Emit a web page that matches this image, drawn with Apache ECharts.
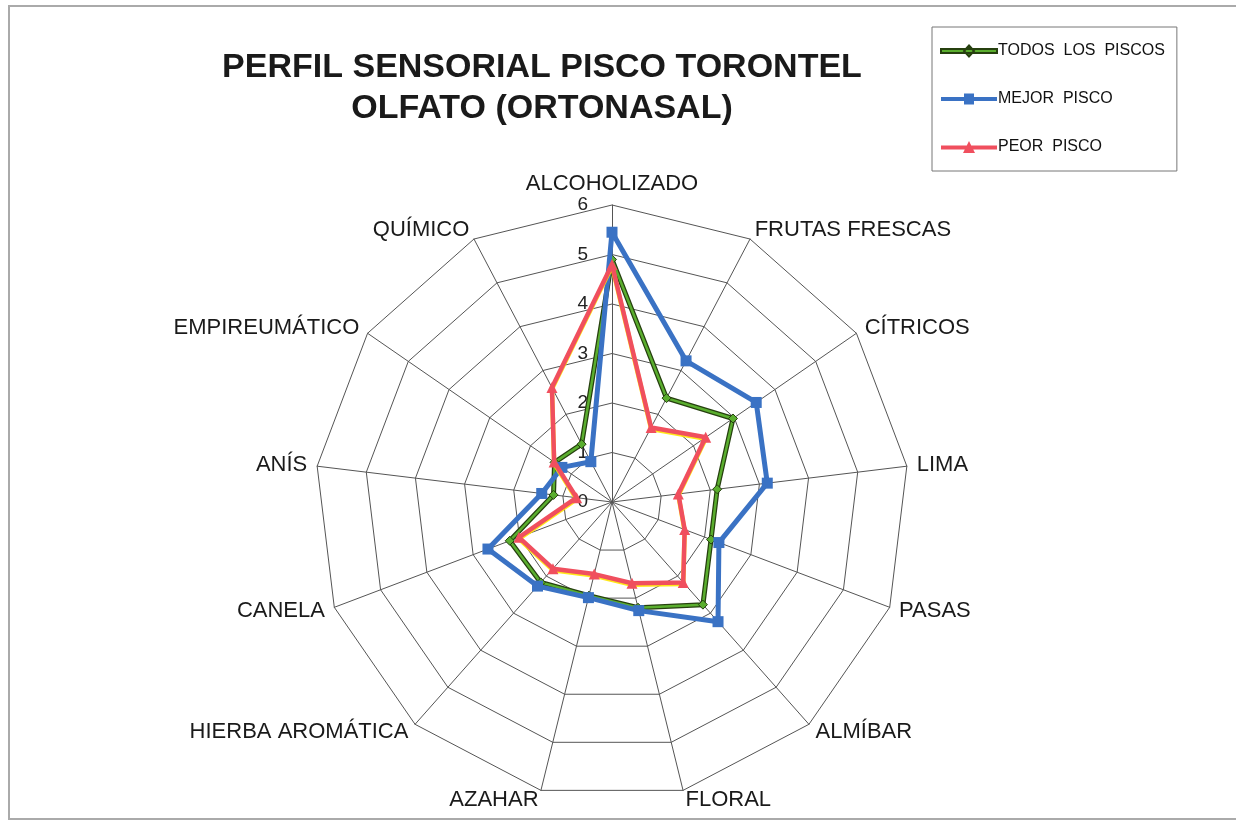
<!DOCTYPE html>
<html>
<head>
<meta charset="utf-8">
<script src="https://cdn.jsdelivr.net/npm/echarts@6/dist/echarts.min.js"></script>
<style>
html,body{margin:0;padding:0;background:#fff;}
#chart{position:absolute;left:0;top:0;width:1236px;height:822px;}
#frame{position:absolute;left:8px;top:5px;width:1240px;height:811px;border-left:2px solid #aaa;border-top:2px solid #aaa;border-bottom:2px solid #aaa;pointer-events:none;}
</style>
</head>
<body>
<div id="chart"></div>
<div id="frame"></div>
<script>
// Categories in clockwise order starting at the top
const categories = ['ALCOHOLIZADO','FRUTAS FRESCAS','CÍTRICOS','LIMA','PASAS','ALMÍBAR','FLORAL','AZAHAR','HIERBA AROMÁTICA','CANELA','ANÍS','EMPIREUMÁTICO','QUÍMICO'];
const todosLosPiscos = [4.9, 2.37, 2.97, 2.14, 2.14, 2.77, 2.2, 1.95, 2.17, 2.21, 1.19, 1.41, 1.32];
const mejorPisco     = [5.45, 3.22, 3.54, 3.16, 2.31, 3.23, 2.26, 1.99, 2.27, 2.68, 1.43, 1.23, 0.92];
const peorPisco      = [4.8, 1.70, 2.30, 1.35, 1.57, 2.17, 1.69, 1.50, 1.80, 2.01, 0.72, 1.42, 2.61];
const seriesNames = ['TODOS  LOS  PISCOS','MEJOR  PISCO','PEOR  PISCO'];
const axisMin = 0, axisMax = 6, axisSplits = 6;

// ECharts lays radar indicators counter-clockwise: reorder to get clockwise layout
function toCCW(arr){ return [arr[0]].concat(arr.slice(1).reverse()); }

const indicators = toCCW(categories).map((n, i) => {
  const o = {name: n, min: axisMin, max: axisMax};
  if (i === 0) o.axisLabel = {show: true};
  return o;
});

const GREEN = '#5aae2e', GREEN_EDGE = '#26400f', BLUE = '#3a72c4', RED = '#f04f5e';
const iconBar = 'M0,4.5 L56,4.5 L56,8.5 L0,8.5 Z ';
const icons = [
  'path://' + iconBar + 'M28,1 L33,6.5 L28,12 L23,6.5 Z',
  'path://' + iconBar + 'M23,1 L33,1 L33,12 L23,12 Z',
  'path://' + iconBar + 'M28,0 L34,12 L22,12 Z'
];

const chart = echarts.init(document.getElementById('chart'), null, {renderer: 'canvas'});
const font = 'Liberation Sans, Arial, sans-serif';
chart.setOption({
  backgroundColor: '#fff',
  animation: false,
  title: {
    text: 'PERFIL SENSORIAL PISCO TORONTEL\nOLFATO (ORTONASAL)',
    left: 537, top: 42, textAlign: 'center',
    textStyle: {fontFamily: font, fontSize: 34, fontWeight: 'bold', color: '#1a1a1a', lineHeight: 41}
  },
  legend: {
    orient: 'vertical', left: 932, top: 27,
    padding: [16, 12, 16, 8], itemGap: 32,
    itemWidth: 56, itemHeight: 12,
    borderColor: '#777', borderWidth: 1,
    data: seriesNames.map((n, i) => ({name: n, icon: icons[i]})),
    textStyle: {fontFamily: font, fontSize: 16, color: '#111', padding: [0,0,0,-4]}
  },
  radar: {
    center: [612, 502], radius: 297,
    startAngle: 90,
    splitNumber: axisSplits,
    shape: 'polygon',
    indicator: indicators,
    axisName: {fontFamily: font, fontSize: 22, color: '#1a1a1a'},
    nameGap: 10,
    axisLine: {lineStyle: {color: '#555', width: 1}},
    splitLine: {lineStyle: {color: '#555', width: 1}},
    splitArea: {show: false},
    axisTick: {show: false},
    axisLabel: {show: false, fontFamily: font, fontSize: 19, color: '#222', margin: 24}
  },
  series: [
    {
      name: 'todos-edge', type: 'radar', z: 2, silent: true,
      symbol: 'none',
      lineStyle: {color: GREEN_EDGE, width: 5},
      itemStyle: {color: GREEN_EDGE},
      data: [{value: toCCW(todosLosPiscos), name: 'todos-edge'}]
    },
    {
      name: seriesNames[0], type: 'radar', z: 2,
      symbol: 'diamond', symbolSize: 9,
      lineStyle: {color: GREEN, width: 2.5},
      itemStyle: {color: GREEN, borderColor: GREEN_EDGE, borderWidth: 1},
      data: [{value: toCCW(todosLosPiscos), name: seriesNames[0]}]
    },
    {
      name: seriesNames[1], type: 'radar', z: 3,
      symbol: 'rect', symbolSize: 11,
      lineStyle: {color: BLUE, width: 5},
      itemStyle: {color: BLUE},
      data: [{value: toCCW(mejorPisco), name: seriesNames[1]}]
    },
    {
      name: seriesNames[2], type: 'radar', z: 4,
      symbol: 'triangle', symbolSize: 11,
      lineStyle: {color: RED, width: 4.5, shadowColor: 'rgba(255,230,0,0.9)', shadowBlur: 0, shadowOffsetY: 1.5},
      itemStyle: {color: RED},
      data: [{value: toCCW(peorPisco), name: seriesNames[2]}]
    }
  ]
});
</script>
</body>
</html>
